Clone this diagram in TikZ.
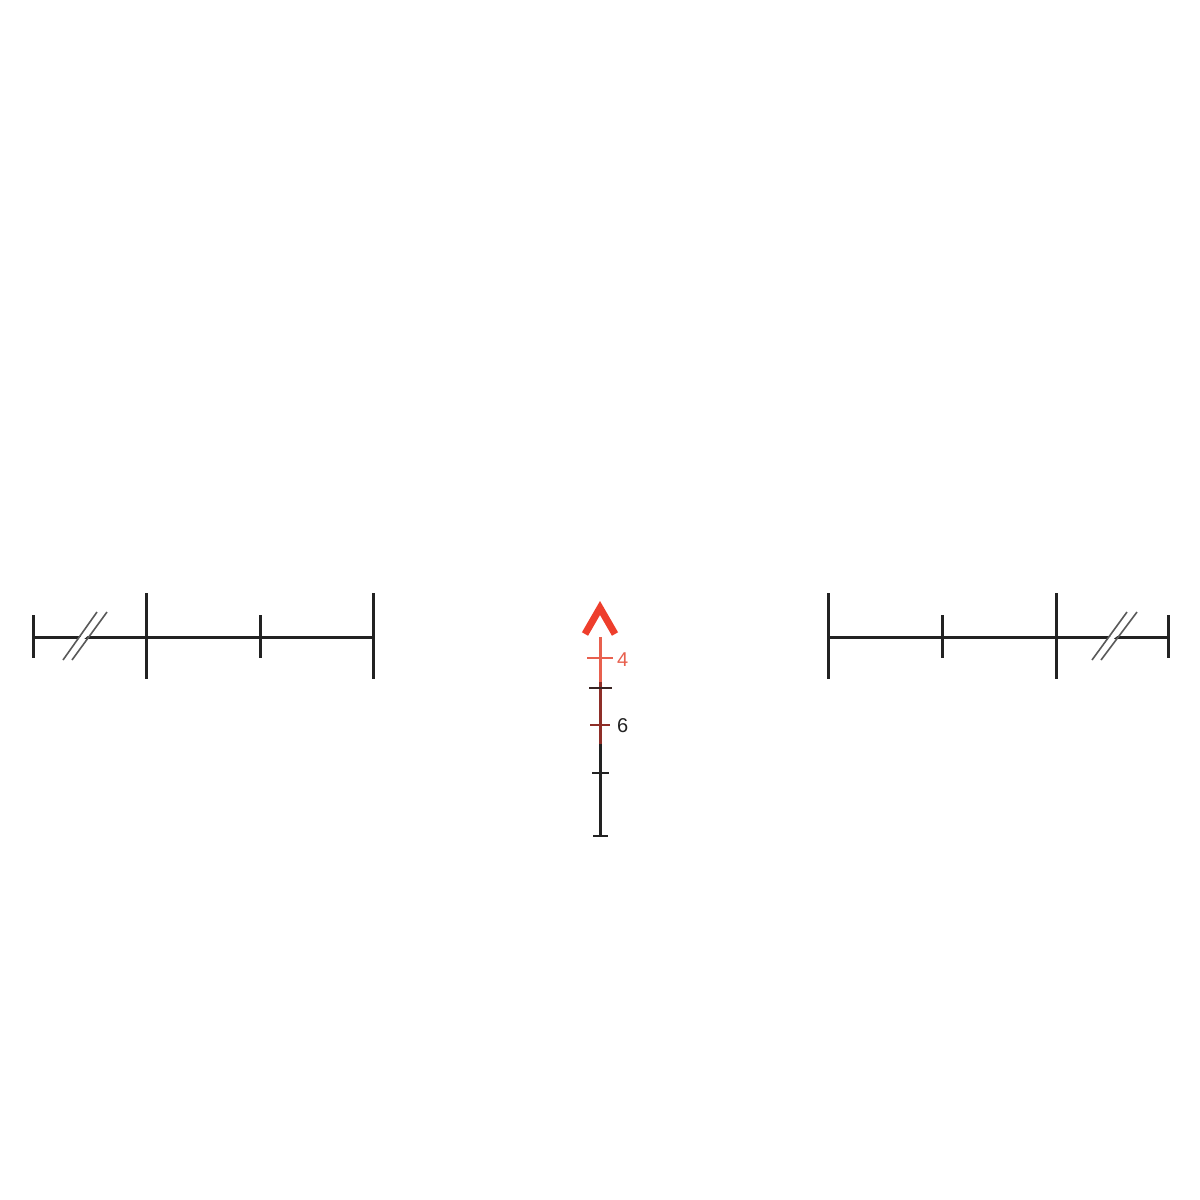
\documentclass[tikz,border=0pt]{standalone}
\usepackage{fontspec}
\setmainfont{Liberation Sans}
\definecolor{retred}{HTML}{EE3E2C}
\definecolor{retpink}{HTML}{E8604E}
\definecolor{retdark}{HTML}{8E2E28}
\definecolor{retline}{HTML}{222222}
\begin{document}
\begin{tikzpicture}[x=1pt,y=-1pt,
  bar/.style={draw=retline,line width=3pt},
  slash/.style={draw=gray!70!black,line width=1.6pt},
  lbl/.style={font=\fontsize{20}{20}\selectfont,inner sep=0pt,anchor=west}]
\useasboundingbox[fill=white] (0,0) rectangle (1200,1200);
% left bar
\draw[bar] (33,637) -- (373,637);
\draw[bar] (33,615) -- (33,658);
\draw[bar] (146,593) -- (146,679);
\draw[bar] (260,615) -- (260,658);
\draw[bar] (373,593) -- (373,679);
\draw[draw=white,line width=4pt] (68,650) -- (101,622);
\draw[slash] (63,660) -- (97,612);
\draw[slash] (72,660) -- (107,612);
% right bar
\draw[bar] (828,637) -- (1168,637);
\draw[bar] (828,593) -- (828,679);
\draw[bar] (942,615) -- (942,658);
\draw[bar] (1056,593) -- (1056,679);
\draw[bar] (1168,615) -- (1168,658);
\draw[draw=white,line width=4pt] (1097,650) -- (1131,622);
\draw[slash] (1092,660) -- (1127,612);
\draw[slash] (1101,660) -- (1137,612);
% vertical post
\draw[draw=retpink,line width=3pt] (600,637) -- (600,682);
\draw[draw=retdark,line width=3pt] (600,682) -- (600,744);
\draw[draw=retline,line width=3pt] (600,744) -- (600,837);
\draw[draw=retpink,line width=2.5pt] (587,658) -- (613,658);
\draw[draw=retline!80!retdark,line width=2.5pt] (589,688) -- (612,688);
\draw[draw=retdark,line width=2.5pt] (590,725) -- (610,725);
\draw[draw=retline,line width=2.5pt] (592,773) -- (609,773);
\draw[draw=retline,line width=2.5pt] (593,836) -- (608,836);
% chevron
\draw[draw=retred,line width=7pt,line join=miter] (585,634) -- (600,608) -- (615,634);
\node[lbl,text=retpink] (four) at (617,660) {4};
\node[lbl,text=retline] (six) at (617,726) {6};
\end{tikzpicture}
\end{document}
